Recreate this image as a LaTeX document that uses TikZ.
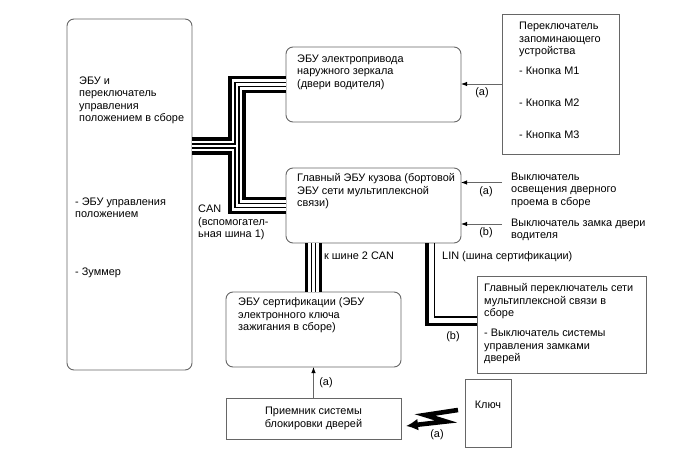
\documentclass[tikz,border=0pt]{standalone}
\usepackage{fontspec}
\setmainfont{Liberation Sans}
\usepackage{tikz}
\usetikzlibrary{positioning}
\usetikzlibrary{arrows.meta}
\usetikzlibrary{calc}
\tikzset{>={Latex[length=6pt,width=4.5pt]}}
\tikzstyle{ecunode}=[draw=black!60,line width=0.9pt,shape=rectangle,rounded corners=7pt,inner sep=0pt,outer sep=0pt]
\tikzstyle{swnode}=[draw=black!60,line width=0.9pt,shape=rectangle,inner sep=0pt,outer sep=0pt]
\tikzstyle{txt}=[anchor=base west,inner sep=0pt,align=left]
\tikzstyle{lbl}=[inner sep=0pt]
\tikzstyle{taro}=[-{Latex[length=6pt,width=4.5pt,color=black]},line width=0.9pt,color=black!60]
\tikzstyle{zaparo}=[-{Latex[length=12pt,width=12pt]},line width=4.6pt,color=black,line join=miter]
\tikzstyle{linthick}=[line width=3.6pt,black,line join=miter]
\tikzstyle{linthin}=[line width=1.4pt,black,line join=miter]

\begin{document}
\begin{tikzpicture}[x=1pt,y=-1pt,font=\fontsize{10.9}{12.4}\selectfont]
	\useasboundingbox (0,0) rectangle (688,463);
	
	% Boxes
	\node[ecunode, minimum width=125pt, minimum height=351pt] (bigecu) at (129.5,194.5) {};
	\node[ecunode, minimum width=175pt, minimum height=75pt] (mirrorecu) at (373.5,84.5) {};
	\node[swnode, minimum width=117pt, minimum height=140pt] (memsw) at (560.5,84) {};
	\node[ecunode, minimum width=175pt, minimum height=75pt] (bodyecu) at (373.5,205.5) {};
	\node[ecunode, minimum width=175pt, minimum height=75pt] (certecu) at (313.5,329.5) {};
	\node[swnode, minimum width=175pt, minimum height=41pt, align=center] (receiver) at (313.5,418.5) {Приемник системы\\блокировки дверей};
	\node[swnode, minimum width=46pt, minimum height=68pt] (keybox) at (488,413) {};
	\node[swnode, minimum width=169pt, minimum height=97pt] (mplxsw) at (561.5,324.5) {};
	
	% Texts (anchored at the baseline of the last line)
	\node[txt] (bigtitle) at (79,121.5) {ЭБУ и\\переключатель\\управления\\положением в сборе};
	\node[txt] (bigpos) at (75,217.5) {- ЭБУ управления\\положением};
	\node[txt] (bigbuzz) at (75,275.5) {- Зуммер};
	\node[txt] (mirrortxt) at (297,87) {ЭБУ электропривода\\наружного зеркала\\(двери водителя)};
	\node[txt] (memtxt) at (519,54.5) {Переключатель\\запоминающего\\устройства};
	\node[txt] (memm1) at (519,74.5) {- Кнопка М1};
	\node[txt] (memm2) at (519,106.5) {- Кнопка М2};
	\node[txt] (memm3) at (519,138.5) {- Кнопка М3};
	\node[txt] (bodytxt) at (297,206.5) {Главный ЭБУ кузова (бортовой\\ЭБУ сети мультиплексной\\связи)};
	\node[txt] (doorlight) at (511,205) {Выключатель\\освещения дверного\\проема в сборе};
	\node[txt] (doorlock) at (511,238.5) {Выключатель замка двери\\водителя};
	\node[txt] (certtxt) at (238,330.5) {ЭБУ сертификации (ЭБУ\\электронного ключа\\зажигания в сборе)};
	\node[txt] (mplxtxt) at (484,316.5) {Главный переключатель сети\\мультиплексной связи в\\сборе};
	\node[txt] (mplxlock) at (484,361.5) {- Выключатель системы\\управления замками\\дверей};
	\node[lbl] (keytxt) at (488,405) {Ключ};
	\node[txt] (canlbl) at (198,237.5) {CAN\\(вспомогател-\\ьная шина 1)};
	\node[txt] (can2lbl) at (324,259.5) {к шине 2 CAN};
	\node[txt] (linlbl) at (442,259.5) {LIN (шина сертификации)};
	
	% CAN buses
	\coordinate (canjct) at (237,146);
	\foreach \w/\c in {17.5/black,10.5/white,5.6/black,2.6/white}{
		\draw[line width=\w pt, color=\c, line join=miter] (bigecu.east |- canjct) -- (canjct) -- (canjct |- mirrorecu.west) -- (mirrorecu.west) (canjct) -- (canjct |- bodyecu.west) -- (bodyecu.west);
		\draw[line width=\w pt, color=\c] (certecu.north |- bodyecu.south) -- (certecu.north);
	}
	
	% LIN bus
	\coordinate (linbend) at (427,324.5);
	\coordinate (linbendin) at (434.5,317);
	\draw[linthick] (linbend |- bodyecu.south) -- (linbend) -- (linbend -| mplxsw.west);
	\draw[linthin] (linbendin |- bodyecu.south) -- (linbendin) -- (linbendin -| mplxsw.west);
	\node[lbl] (linb) at (453,337) {(b)};
	
	% Signals
	\draw[taro] (memsw.west) -- (mirrorecu.east |- memsw.west);
	\node[lbl] (mema) at (482,93) {(a)};
	\coordinate (doorlightin) at (502,182.5);
	\coordinate (doorlockin) at (502,224);
	\draw[taro] (doorlightin) -- (doorlightin -| bodyecu.east);
	\draw[taro] (doorlockin) -- (doorlockin -| bodyecu.east);
	\node[lbl] (doora) at (486,192) {(a)};
	\node[lbl] (doorb) at (486,232.5) {(b)};
	\draw[taro] (receiver.north) -- (certecu.south);
	\node[lbl] (reca) at (326,383) {(a)};
	
	% Key
	\coordinate (zapstart) at (458,410);
	\coordinate (zapa) at (425,415);
	\coordinate (zapb) at (446,421.5);
	\draw[zaparo] (zapstart) -- (zapa) -- (zapb) -- ($(receiver.east |- zapb) + (5,4.5)$);
	\node[lbl] (keya) at (437,435) {(a)};
	
\end{tikzpicture}
\end{document}
